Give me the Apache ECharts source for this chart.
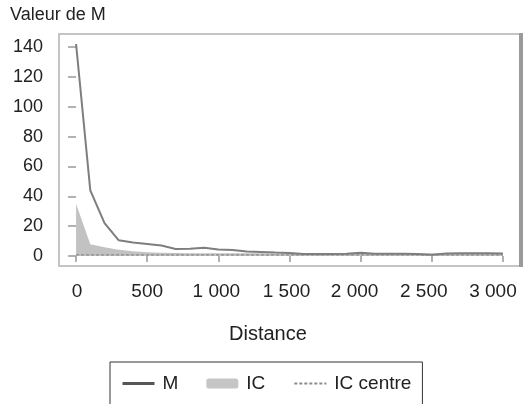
<!DOCTYPE html>
<html>
<head>
<meta charset="utf-8">
<script src="https://cdn.jsdelivr.net/npm/echarts@6/dist/echarts.min.js"></script>
<style>html,body{margin:0;padding:0;background:#fff;}#c{width:524px;height:404px;}</style>
</head>
<body>
<div id="c"></div>
<script>
const distances = [0,100,200,300,400,500,600,700,800,900,1000,1100,1200,1300,1400,1500,1600,1700,1800,1900,2000,2100,2200,2300,2400,2500,2600,2700,2800,2900,3000];
const mValues   = [142,44,22,10.5,9,8,7,4.7,4.8,5.6,4.4,4.0,3.0,2.7,2.3,2.0,1.4,1.3,1.3,1.5,2.2,1.5,1.5,1.5,1.3,0.8,1.7,1.8,1.8,1.8,1.7];
const icUpper   = [35,7.8,5.8,4.2,3.2,2.5,2.2,2.0,1.9,1.9,1.8,1.8,1.8,1.8,1.7,1.7,1.7,1.7,1.7,1.7,1.7,1.7,1.7,1.7,1.7,1.7,1.7,1.7,1.7,1.7,1.7];
const icCentre  = [0.8,0.8,0.8,0.8,0.8,0.8,0.8,0.8,0.8,0.8,0.8,0.8,0.8,0.8,0.8,0.8,0.8,0.8,0.8,0.8,0.8,0.8,0.8,0.8,0.8,0.8,0.8,0.8,0.8,0.8,0.8];
const xTicks = [0,500,1000,1500,2000,2500,3000];
const yTicks = [0,20,40,60,80,100,120,140];
const yTitle = 'Valeur de M';
const xTitle = 'Distance';

const FONT = '"Liberation Sans", Arial, sans-serif';
// small horizontal nudges (px) of the x tick labels, as placed in the original figure
const labelNudge = [1, 0, -2, -3, -6, -8, -10];
const rich = {};
labelNudge.forEach((s, i) => {
  rich['n' + i] = {fontSize: 19, color: '#222', fontFamily: FONT,
    padding: s < 0 ? [0, -2 * s, 0, 0] : [0, 0, 0, 2 * s]};
});
const pair = (ys) => distances.map((d, i) => [d, ys[i]]);
const chart = echarts.init(document.getElementById('c'), null, {renderer: 'canvas'});
chart.setOption({
  animation: false,
  backgroundColor: '#fff',
  textStyle: {fontFamily: FONT},
  grid: {left: 59, top: 34, right: 4, bottom: 138, show: true, outerBoundsMode: 'none', containLabel: false,
    borderColor: '#c4c4c4', borderWidth: 2, backgroundColor: 'transparent'},
  xAxis: {
    type: 'value', min: -120, max: 3120,
    axisLine: {show: false},
    splitLine: {show: false},
    axisTick: {show: true, length: 6, customValues: xTicks, lineStyle: {color: '#999', width: 1.5}},
    axisLabel: {customValues: xTicks, margin: 16, fontSize: 19, color: '#222', fontFamily: FONT, rich: rich,
      formatter: v => {
        const i = xTicks.indexOf(v);
        const t = String(v).replace(/\B(?=(\d{3})+(?!\d))/g, ' ');
        return i >= 0 ? '{n' + i + '|' + t + '}' : t;
      }}
  },
  yAxis: {
    type: 'value', min: -6.7, max: 148.7, offset: 2,
    axisLine: {show: false},
    splitLine: {show: false},
    axisTick: {show: true, length: 8, customValues: yTicks, lineStyle: {color: '#999', width: 1.5}},
    axisLabel: {customValues: yTicks, margin: 14, fontSize: 18, color: '#222', fontFamily: FONT}
  },
  legend: {
    left: 110, top: 362,
    padding: [12, 11, 40, 11],
    borderColor: '#333', borderWidth: 1,
    itemWidth: 32, itemHeight: 10, itemGap: 28,
    textStyle: {fontSize: 19, color: '#222', fontFamily: FONT, padding: [0, 0, 0, 3]},
    data: [
      {name: 'M', itemStyle: {opacity: 0}, lineStyle: {width: 3, color: '#555'}},
      {name: 'IC', icon: 'roundRect', itemStyle: {color: '#c6c6c6'}},
      {name: 'IC centre', itemStyle: {opacity: 0}}
    ]
  },
  graphic: [
    {type: 'text', left: 10, top: 6, style: {text: yTitle, font: '18px ' + FONT, fill: '#222'}},
    {type: 'text', left: 229, top: 324, style: {text: xTitle, font: '20px ' + FONT, fill: '#222'}},
    {type: 'rect', shape: {x: 519, y: 33, width: 4, height: 234}, style: {fill: '#9a9a9a'}}
  ],
  series: [
    {name: 'IC', type: 'line', data: pair(icUpper), symbol: 'none',
      lineStyle: {width: 0, opacity: 0}, itemStyle: {color: '#c6c6c6'},
      areaStyle: {color: '#c2c2c2', opacity: 1}},
    {name: 'IC centre', type: 'line', data: pair(icCentre), symbol: 'none',
      lineStyle: {color: '#8a8a8a', width: 1.3, type: [3, 2]}, itemStyle: {color: '#8a8a8a'}},
    {name: 'M', type: 'line', data: pair(mValues), symbol: 'none',
      lineStyle: {color: '#7e7e7e', width: 2}, itemStyle: {color: '#555'}}
  ]
});
</script>
</body>
</html>
